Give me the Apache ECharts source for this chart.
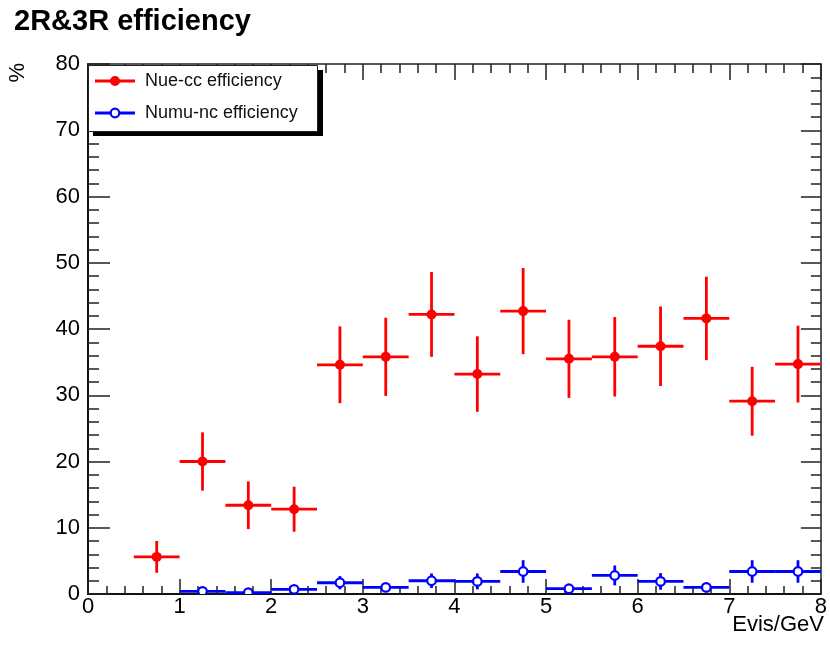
<!DOCTYPE html>
<html>
<head>
<meta charset="utf-8">
<script src="https://cdn.jsdelivr.net/npm/echarts@6/dist/echarts.min.js"></script>
<style>
html,body{margin:0;padding:0;background:#fff;}
#chart{width:830px;height:650px;}
</style>
</head>
<body>
<div id="chart"></div>
<script>
// ---- data ----
const binHalfWidth = 0.25;
const nueCenters = [0.75, 1.25, 1.75, 2.25, 2.75, 3.25, 3.75, 4.25, 4.75, 5.25, 5.75, 6.25, 6.75, 7.25, 7.75];
const nueValues  = [5.6, 20.0, 13.4, 12.8, 34.6, 35.8, 42.2, 33.2, 42.7, 35.5, 35.8, 37.4, 41.6, 29.1, 34.7];
const nueErrors  = [2.4, 4.4, 3.6, 3.4, 5.8, 5.9, 6.4, 5.7, 6.5, 5.9, 6.0, 6.0, 6.3, 5.2, 5.8];
const numuCenters = [1.25, 1.75, 2.25, 2.75, 3.25, 3.75, 4.25, 4.75, 5.25, 5.75, 6.25, 6.75, 7.25, 7.75];
const numuValues  = [0.4, 0.2, 0.7, 1.7, 1.0, 2.0, 1.9, 3.4, 0.8, 2.8, 1.9, 1.0, 3.4, 3.4];
const numuErrors  = [0.4, 0.3, 0.6, 1.0, 0.7, 1.1, 1.2, 1.7, 0.5, 1.5, 1.25, 0.75, 1.7, 1.7];
const xTicks = [0, 1, 2, 3, 4, 5, 6, 7, 8];
const yTicks = [0, 10, 20, 30, 40, 50, 60, 70, 80];
const titleText = '2R&3R efficiency';
const xTitle = 'Evis/GeV';
const yTitle = '%';
const legendNames = ['Nue-cc efficiency', 'Numu-nc efficiency'];

const FONT = '"Liberation Sans", Arial, Helvetica, sans-serif';

function rows(c, v, e) { return c.map((x, i) => [x, v[i], e[i]]); }

function makeRender(color, filled) {
  return function (params, api) {
    const x = api.value(0), y = api.value(1), e = api.value(2);
    const l = api.coord([x - binHalfWidth, y]);
    const r = api.coord([x + binHalfWidth, y]);
    const t = api.coord([x, y + e]);
    const b = api.coord([x, y - e]);
    const c = api.coord([x, y]);
    const ls = { stroke: color, lineWidth: 2.8 };
    return {
      type: 'group',
      children: [
        { type: 'line', shape: { x1: l[0], y1: l[1], x2: r[0], y2: r[1] }, style: ls },
        { type: 'line', shape: { x1: t[0], y1: t[1], x2: b[0], y2: b[1] }, style: ls },
        { type: 'circle', shape: { cx: c[0], cy: c[1], r: filled ? 5 : 4.3 },
          style: filled ? { fill: color } : { fill: '#fff', stroke: color, lineWidth: 2.2 } }
      ]
    };
  };
}

const chart = echarts.init(document.getElementById('chart'), null, { renderer: 'canvas' });

const axisCommon = {
  type: 'value',
  axisLine: { show: true, onZero: false, lineStyle: { color: '#111', width: 2 } },
  splitLine: { show: false },
  axisTick: { show: true, inside: true, lineStyle: { color: '#222', width: 1.5 } },
  minorTick: { show: true, splitNumber: 5, lineStyle: { color: '#222', width: 1.5 } }
};

const legendY = [81, 113];
const legendColors = ['#ff0000', '#0000ff'];

chart.setOption({
  animation: false,
  backgroundColor: '#fff',
  title: {
    text: titleText, left: 9, top: 2,
    textStyle: { fontFamily: FONT, fontSize: 29, fontWeight: 'bold', color: '#000' }
  },
  grid: { left: 88, right: 6, top: 64, bottom: 56, containLabel: false },
  xAxis: [
    Object.assign({}, axisCommon, {
      min: xTicks[0], max: xTicks[xTicks.length - 1], interval: 1, position: 'bottom',
      axisTick: Object.assign({}, axisCommon.axisTick, { length: 15 }),
      minorTick: Object.assign({}, axisCommon.minorTick, { length: 8 }),
      axisLabel: { show: true, margin: 2, fontFamily: FONT, fontSize: 22, color: '#000' }
    }),
    Object.assign({}, axisCommon, {
      min: xTicks[0], max: xTicks[xTicks.length - 1], interval: 1, position: 'top',
      axisLine: { show: true, onZero: false, lineStyle: { color: '#222', width: 1.5 } },
      axisTick: Object.assign({}, axisCommon.axisTick, { length: 16 }),
      minorTick: Object.assign({}, axisCommon.minorTick, { length: 9 }),
      axisLabel: { show: false }
    })
  ],
  yAxis: [
    Object.assign({}, axisCommon, {
      min: yTicks[0], max: yTicks[yTicks.length - 1], interval: 10, position: 'left',
      axisTick: Object.assign({}, axisCommon.axisTick, { length: 22 }),
      minorTick: Object.assign({}, axisCommon.minorTick, { length: 11 }),
      axisLabel: { show: true, margin: 8, fontFamily: FONT, fontSize: 22, color: '#000' }
    }),
    Object.assign({}, axisCommon, {
      min: yTicks[0], max: yTicks[yTicks.length - 1], interval: 10, position: 'right',
      axisLine: { show: true, onZero: false, lineStyle: { color: '#222', width: 1.5 } },
      axisTick: Object.assign({}, axisCommon.axisTick, { length: 20 }),
      minorTick: Object.assign({}, axisCommon.minorTick, { length: 10 }),
      axisLabel: { show: false }
    })
  ],
  series: [
    {
      name: legendNames[0], type: 'custom', xAxisIndex: 0, yAxisIndex: 0, clip: true,
      renderItem: makeRender(legendColors[0], true),
      encode: { x: 0, y: 1 },
      data: rows(nueCenters, nueValues, nueErrors), z: 3
    },
    {
      name: legendNames[1], type: 'custom', xAxisIndex: 0, yAxisIndex: 0, clip: true,
      renderItem: makeRender(legendColors[1], false),
      encode: { x: 0, y: 1 },
      data: rows(numuCenters, numuValues, numuErrors), z: 4
    }
  ],
  graphic: [
    { type: 'text', left: 7, top: 63, rotation: Math.PI / 2,
      style: { text: yTitle, fontFamily: FONT, fontSize: 22, fill: '#000' } },
    { type: 'text', right: 6, top: 614,
      style: { text: xTitle, fontFamily: FONT, fontSize: 22, fill: '#000' } },
    { type: 'rect', shape: { x: 93, y: 70, width: 230, height: 66 }, style: { fill: '#000' }, z: 10 },
    { type: 'rect', shape: { x: 88.5, y: 65.5, width: 229, height: 66 }, style: { fill: '#fff', stroke: '#222', lineWidth: 1 }, z: 11 },
    { type: 'line', shape: { x1: 95, y1: legendY[0], x2: 135, y2: legendY[0] }, style: { stroke: legendColors[0], lineWidth: 2.8 }, z: 12 },
    { type: 'circle', shape: { cx: 115, cy: legendY[0], r: 5 }, style: { fill: legendColors[0] }, z: 12 },
    { type: 'text', x: 145, y: legendY[0], style: { text: legendNames[0], fontFamily: FONT, fontSize: 18, fill: '#111', verticalAlign: 'middle' }, z: 12 },
    { type: 'line', shape: { x1: 95, y1: legendY[1], x2: 135, y2: legendY[1] }, style: { stroke: legendColors[1], lineWidth: 2.8 }, z: 12 },
    { type: 'circle', shape: { cx: 115, cy: legendY[1], r: 4.3 }, style: { fill: '#fff', stroke: legendColors[1], lineWidth: 2.2 }, z: 12 },
    { type: 'text', x: 145, y: legendY[1], style: { text: legendNames[1], fontFamily: FONT, fontSize: 18, fill: '#111', verticalAlign: 'middle' }, z: 12 }
  ]
});
</script>
</body>
</html>
